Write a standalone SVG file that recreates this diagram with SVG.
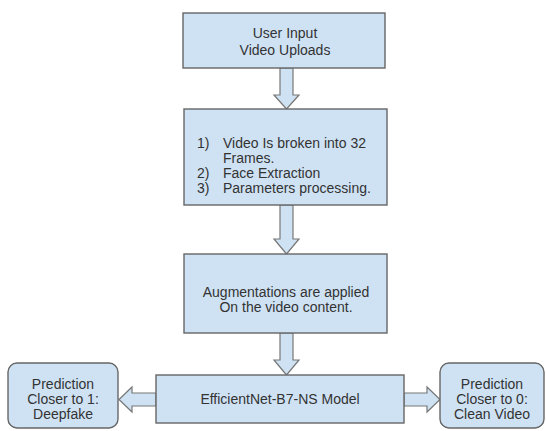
<svg xmlns="http://www.w3.org/2000/svg" width="546" height="431" viewBox="0 0 546 431">
<style>
.box{fill:#cfe2f3;stroke:#666;stroke-width:1.4}
.arr{fill:#cfe2f3;stroke:#777;stroke-width:1.2;stroke-linejoin:miter}
text{font-family:"Liberation Sans",Arial,sans-serif;font-size:14px;fill:#333}
.c{text-anchor:middle}
</style>
<rect width="546" height="431" fill="#fff"/>
<g id="connectors">
<polygon class="arr" points="280,68 293,68 293,95 299,95 286.5,109 274,95 280,95"/>
<polygon class="arr" points="280,205 293,205 293,239 299,239 286.5,254 274,239 280,239"/>
<polygon class="arr" points="280,333 293,333 293,360 299,360 286.5,375 274,360 280,360"/>
<polygon class="arr" points="156,393 132,393 132,387 119,399.5 132,412 132,406 156,406"/>
<polygon class="arr" points="404,393 427,393 427,387 440,399.5 427,412 427,406 404,406"/>
</g>
<g id="input">
<rect class="box" x="183" y="13" width="202" height="55"/>
<text class="c" x="285" y="38">User Input</text>
<text class="c" x="285" y="55">Video Uploads</text>
</g>
<g id="processing">
<rect class="box" x="184" y="109" width="203" height="96"/>
<text x="197" y="148">1)</text><text x="223" y="148">Video Is broken into 32</text>
<text x="223" y="163">Frames.</text>
<text x="197" y="178">2)</text><text x="223" y="178">Face Extraction</text>
<text x="197" y="193">3)</text><text x="223" y="193">Parameters processing.</text>
</g>
<g id="augment">
<rect class="box" x="184" y="254" width="203" height="79"/>
<text class="c" x="286" y="297">Augmentations are applied</text>
<text class="c" x="286" y="312">On the video content.</text>
</g>
<g id="model">
<rect class="box" x="156" y="375" width="248" height="48"/>
<text class="c" x="280" y="404">EfficientNet-B7-NS Model</text>
</g>
<g id="deepfake">
<rect class="box" x="8" y="363" width="110" height="65" rx="9"/>
<text class="c" x="63" y="389">Prediction</text>
<text class="c" x="63" y="404">Closer to 1:</text>
<text class="c" x="63" y="419">Deepfake</text>
</g>
<g id="clean">
<rect class="box" x="440" y="363" width="104" height="65" rx="9"/>
<text class="c" x="492" y="389">Prediction</text>
<text class="c" x="492" y="404">Closer to 0:</text>
<text class="c" x="492" y="419">Clean Video</text>
</g>
</svg>
